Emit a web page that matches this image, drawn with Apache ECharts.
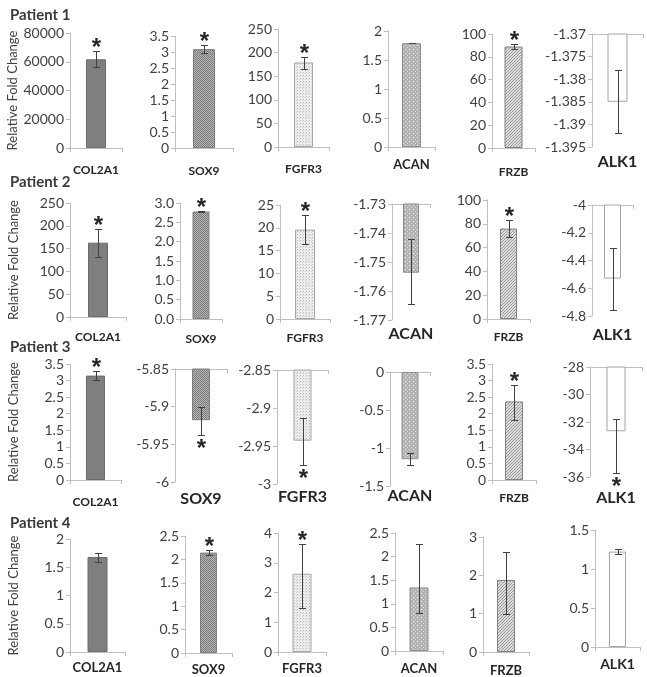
<!DOCTYPE html>
<html><head><meta charset="utf-8">
<script src="https://cdn.jsdelivr.net/npm/echarts@6/dist/echarts.min.js"></script>
<style>html,body{margin:0;padding:0;background:#fff}#c{width:647px;height:677px}</style>
</head><body><div id="c"></div>
<script>
// ---------- DATA ----------
const patients = ['Patient 1', 'Patient 2', 'Patient 3', 'Patient 4'];
const genes = ['COL2A1', 'SOX9', 'FGFR3', 'ACAN', 'FRZB', 'ALK1'];
const yName = 'Relative Fold Change';

// Patient 1
const p1Mean = [61700, 3.09, 179, 1.79, 89, -1.385];
const p1Low  = [56500, 2.98, 165, 1.787, 87, -1.392];
const p1High = [67700, 3.22, 191, 1.793, 91, -1.378];
const p1Star = [1, 1, 1, 0, 1, 0];
const p1Min  = [0, 0, 0, 0, 0, -1.395];
const p1Max  = [80000, 3.5, 250, 2, 100, -1.37];
const p1Step = [20000, 0.5, 50, 0.5, 20, 0.005];

// Patient 2
const p2Mean = [163, 2.78, 19.6, -1.7537, 76, -4.53];
const p2Low  = [132, 2.77, 16.4, -1.7646, 68.5, -4.755];
const p2High = [194, 2.79, 22.8, -1.7422, 83.5, -4.31];
const p2Star = [1, 1, 1, 0, 1, 0];
const p2Min  = [0, 0, 0, -1.77, 0, -4.8];
const p2Max  = [250, 3, 25, -1.73, 100, -4];
const p2Step = [50, 0.5, 5, 0.01, 20, 0.2];

// Patient 3
const p3Mean = [3.15, -5.918, -2.943, -1.147, 2.37, -32.67];
const p3Low  = [3.02, -5.937, -2.975, -1.226, 1.82, -35.68];
const p3High = [3.28, -5.900, -2.9125, -1.072, 2.88, -31.80];
const p3Star = [1, 1, 1, 0, 1, 1];
const p3Min  = [0, -6, -3, -1.5, 0, -36];
const p3Max  = [3.5, -5.85, -2.85, 0, 3.5, -28];
const p3Step = [0.5, 0.05, 0.05, 0.5, 0.5, 2];

// Patient 4
const p4Mean = [1.68, 2.145, 2.63, 1.346, 1.88, 1.223];
const p4Low  = [1.60, 2.09, 1.48, 0.80, 0.99, 1.19];
const p4High = [1.76, 2.20, 3.62, 2.27, 2.62, 1.257];
const p4Star = [0, 1, 1, 0, 0, 0];
const p4Min  = [0, 0, 0, 0, 0, 0];
const p4Max  = [2, 2.5, 4, 2.5, 3, 1.5];
const p4Step = [0.5, 0.5, 1, 0.5, 1, 0.5];

// tick label decimals (null = general format)
const p2Decimals = [null, 1, null, null, null, null];

// ---------- LAYOUT / STYLE ----------
const means = [p1Mean, p2Mean, p3Mean, p4Mean];
const lows = [p1Low, p2Low, p3Low, p4Low];
const highs = [p1High, p2High, p3High, p4High];
const stars = [p1Star, p2Star, p3Star, p4Star];
const mins = [p1Min, p2Min, p3Min, p4Min];
const maxs = [p1Max, p2Max, p3Max, p4Max];
const steps = [p1Step, p2Step, p3Step, p4Step];
const decs = [[], p2Decimals, [], []];

// [left, right, top, bottom, barWidth, labelFontSize, labelMargin]
const layout = [
  [[70,122,33,148,20,12,16],[175,233,36,148,22,12,17],[278,329,29,147,19,12,16],[388,435,31,147,19,13,11],[492,535,34,148,18,12,18],[592,643,34,147,20,16,7]],
  [[70,126,203,317,20,12,14],[180,222,203,319,17,12,14],[280,330,205,319,20,12,13],[392,430,204,320,16,16,6],[487,530,200,319,17,12,12],[592,633,205,316,17,16,11]],
  [[70,121,364,480,19,12,16],[175,227,369,482,18,16,9],[277,328,370,484,18,16,5],[390,430,372,486,17,16,2],[492,536,364,480,18,12,12],[590,642,367,477,19,16,13]],
  [[70,125,539,652,20,13,9],[185,232,536,653,17,13,10],[278,326,533,652,19,13,10],[395,443,533,651,19,13,11],[483,529,537,652,18,13,12],[595,640,530,647,17,14,10]]
];
const titleTops = [3, 170, 335, 511];

const FONT = 'Lato, "Open Sans", sans-serif';
const AXIS = '#bfbfbf';

function pat(size, bg, dots) {
  const c = document.createElement('canvas');
  c.width = c.height = size;
  const x = c.getContext('2d');
  x.fillStyle = bg; x.fillRect(0, 0, size, size);
  dots.forEach(d => { x.fillStyle = d[2]; x.fillRect(d[0], d[1], 1, 1); });
  return { image: c, repeat: 'repeat' };
}
const fills = [
  '#7f7f7f',
  pat(2, '#b5b5b5', [[0,0,'#7c7c7c'],[1,1,'#7c7c7c']]),
  pat(3, '#ededed', [[0,0,'#b9b9b9'],[2,1,'#cfcfcf']]),
  pat(4, '#b3b3b3', [[1,1,'#f2f2f2'],[3,3,'#d9d9d9']]),
  pat(3, '#dcdcdc', [[0,2,'#9a9a9a'],[1,1,'#9a9a9a'],[2,0,'#9a9a9a']]),
  '#ffffff'
];
const borders = ['#6b6b6b', '#7f7f7f', '#a6a6a6', '#8c8c8c', '#808080', '#a6a6a6'];

function fmt(d) {
  return v => (d === null || d === undefined) ? String(parseFloat(v.toFixed(6))) : v.toFixed(d);
}

function renderErr(params, api) {
  const m = api.value(1), lo = api.value(2), hi = api.value(3), st = api.value(4);
  const pLo = api.coord([0, lo]), pHi = api.coord([0, hi]);
  const x = Math.round(pLo[0]) + 0.5;
  const yH = Math.round(pHi[1]) + 0.5, yL = Math.round(pLo[1]) + 0.5;
  const cap = 3.5;
  const ls = { stroke: '#404040', lineWidth: 1 };
  const ch = [
    { type: 'line', shape: { x1: x, y1: yH, x2: x, y2: yL }, style: ls },
    { type: 'line', shape: { x1: x - cap, y1: yH, x2: x + cap, y2: yH }, style: ls },
    { type: 'line', shape: { x1: x - cap, y1: yL, x2: x + cap, y2: yL }, style: ls }
  ];
  if (st) {
    const above = m > 0;
    ch.push({ type: 'text', style: {
      text: '*', x: x, y: above ? yH - 3 : yL + 14,
      align: 'center', verticalAlign: 'middle',
      font: 'bold 24px "Liberation Sans", Arial, sans-serif', fill: '#262626'
    }});
  }
  return { type: 'group', children: ch };
}

const option = { animation: false, title: [], grid: [], xAxis: [], yAxis: [], series: [] };

for (let r = 0; r < 4; r++) {
  option.title.push({ text: patients[r], left: 5, top: titleTops[r],
    textStyle: { fontSize: 15, fontWeight: 'bold', color: '#3a3a3a', fontFamily: FONT } });
  for (let g = 0; g < 6; g++) {
    const [L, R, T, B, bw, lf, lm] = layout[r][g];
    const gi = option.grid.length;
    option.grid.push({ left: L, top: T, width: R - L, height: B - T });
    const mean = means[r][g];
    const neg = mean < 0;
    const labelStyle = { show: true, fontSize: lf, fontWeight: 'bold', color: '#262626', fontFamily: FONT, margin: lm };
    const xi = option.xAxis.length;
    option.xAxis.push({
      type: 'category', gridIndex: gi, data: [genes[g]], position: neg ? 'top' : 'bottom',
      axisLine: { show: true, onZero: false, lineStyle: { color: AXIS } },
      axisTick: { show: true, inside: neg, length: 4, lineStyle: { color: AXIS } },
      axisLabel: neg ? { show: false } : labelStyle,
      splitLine: { show: false }
    });
    if (neg) {
      option.xAxis.push({
        type: 'category', gridIndex: gi, data: [genes[g]], position: 'bottom',
        axisLine: { show: false }, axisTick: { show: false }, axisLabel: labelStyle, splitLine: { show: false }
      });
    }
    option.yAxis.push({
      type: 'value', gridIndex: gi, min: mins[r][g], max: maxs[r][g], interval: steps[r][g],
      axisLine: { show: true, lineStyle: { color: AXIS } },
      axisTick: { show: true, length: 4, lineStyle: { color: AXIS } },
      splitLine: { show: false },
      axisLabel: { formatter: fmt(decs[r][g]), fontSize: 14, color: '#3f3f3f', fontFamily: FONT, margin: 6 },
      name: g === 0 ? yName : '', nameLocation: 'middle', nameGap: 50,
      nameTextStyle: { fontSize: 13, color: '#404040', fontFamily: FONT }
    });
    option.series.push({
      type: 'bar', xAxisIndex: xi, yAxisIndex: gi, data: [mean], barWidth: bw, clip: true, silent: true,
      itemStyle: { color: fills[g], borderColor: borders[g], borderWidth: 1 }
    });
    option.series.push({
      type: 'custom', xAxisIndex: xi, yAxisIndex: gi, clip: false, silent: true, z: 10,
      data: [[0, mean, lows[r][g], highs[r][g], stars[r][g]]],
      renderItem: renderErr
    });
  }
}

const chart = echarts.init(document.getElementById('c'), null, { renderer: 'canvas' });
chart.setOption(option);
</script>
</body></html>
